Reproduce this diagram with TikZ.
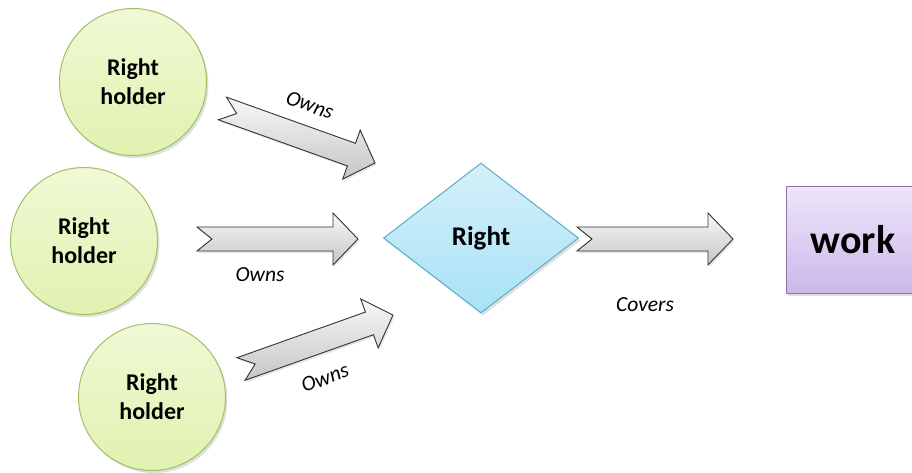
\documentclass[tikz,border=0pt]{standalone}
\usepackage{fontspec}
\setmainfont{Carlito}
\usetikzlibrary{shapes.geometric,shadows,calc}

\definecolor{holdertop}{RGB}{240,249,212}
\definecolor{holderbot}{RGB}{224,242,176}
\definecolor{holderline}{RGB}{160,192,104}
\definecolor{righttop}{RGB}{212,240,249}
\definecolor{rightbot}{RGB}{168,226,246}
\definecolor{rightline}{RGB}{92,172,200}
\definecolor{worktop}{RGB}{238,230,249}
\definecolor{workbot}{RGB}{204,184,234}
\definecolor{workline}{RGB}{140,116,170}

\tikzset{
  softshadow/.style={drop shadow={opacity=0.25,shadow xshift=2pt,shadow yshift=-2.5pt}},
  holder/.style={circle, draw=holderline, line width=1pt, top color=holdertop, bottom color=holderbot,
    minimum size=147pt, inner sep=0pt, align=center, softshadow,
    font=\fontsize{24}{29}\selectfont\bfseries},
  rightbox/.style={diamond, draw=rightline, line width=1pt, top color=righttop, bottom color=rightbot,
    minimum width=195pt, minimum height=150pt, inner sep=0pt, softshadow,
    font=\fontsize{27}{32}\selectfont\bfseries},
  workbox/.style={rectangle, draw=workline, line width=1pt, top color=worktop, bottom color=workbot,
    minimum width=134pt, minimum height=107pt, inner sep=0pt, softshadow,
    font=\fontsize{40}{48}\selectfont\bfseries},
  verb/.style={font=\fontsize{21.5}{25}\selectfont\itshape},
  % block arrow with a notched tail, from start to tip
  blockarrow/.style={draw=black!80, line width=0.9pt, top color=gray!6, bottom color=gray!45,
    drop shadow={opacity=0.2,shadow xshift=1.5pt,shadow yshift=-2pt},
    to path={
      let \p1=(\tikztostart), \p2=(\tikztotarget),
          \n1={atan2(\y2-\y1,\x2-\x1)}, \n2={veclen(\x2-\x1,\y2-\y1)} in
      ([shift={(\p1)},rotate=\n1]0,-12) -- ([shift={(\p1)},rotate=\n1]{\n2-25},-12)
      -- ([shift={(\p1)},rotate=\n1]{\n2-25},-26) -- ([shift={(\p1)},rotate=\n1]\n2,0)
      -- ([shift={(\p1)},rotate=\n1]{\n2-25},26) -- ([shift={(\p1)},rotate=\n1]{\n2-25},12)
      -- ([shift={(\p1)},rotate=\n1]0,12) -- ([shift={(\p1)},rotate=\n1]15,0) -- cycle
    }},
}

\begin{document}
\begin{tikzpicture}[x=1pt,y=-1pt]
\useasboundingbox (0,0) rectangle (912,472);

% owners
\node[holder] (holder1) at (133,82) {Right\\holder};
\node[holder] (holder2) at (84,241) {Right\\holder};
\node[holder] (holder3) at (152,397) {Right\\holder};

\node[rightbox] (right) at (481,238) {Right};
\node[workbox] (work) at (853,239.5) {work};

% arrow ends
\coordinate (own1s) at (222.5,108.5);
\coordinate (own1e) at (375,163);
\coordinate (own2s) at (197,239);
\coordinate (own2e) at (358,239);
\coordinate (own3s) at (241,369);
\coordinate (own3e) at (393,315);
\coordinate (covs) at (577,239);
\coordinate (cove) at (733,239);

\path[blockarrow] (own1s) to (own1e);
\path[blockarrow] (own2s) to (own2e);
\path[blockarrow] (own3s) to (own3e);
\path[blockarrow] (covs) to (cove);

\node[verb, rotate=-20] (owns1) at (310,105) {Owns};
\node[verb] (owns2) at (260,275) {Owns};
\node[verb, rotate=20] (owns3) at (325,378) {Owns};
\node[verb] (covers) at (645,305) {Covers};
\end{tikzpicture}
\end{document}
